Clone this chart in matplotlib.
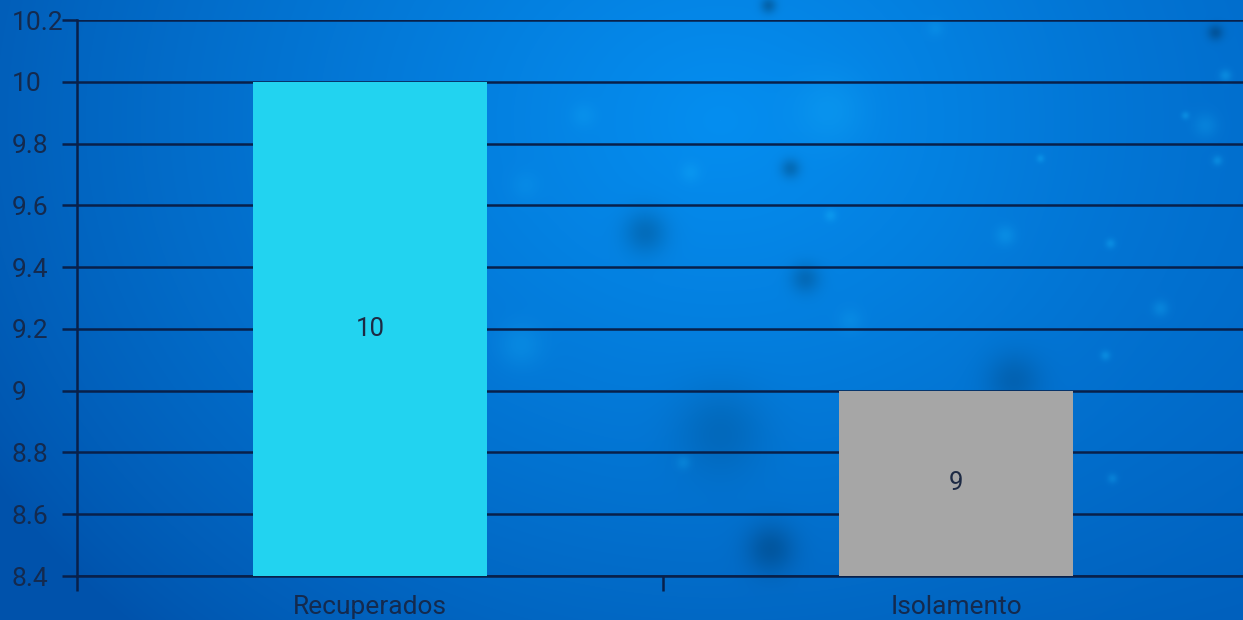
import numpy as np
import matplotlib
matplotlib.use("Agg")
import matplotlib.pyplot as plt

categories = ["Recuperados", "Isolamento"]
values = [10, 9]
bar_colors = ["#22d3f0", "#a6a6a6"]
y_ticks = [8.4, 8.6, 8.8, 9.0, 9.2, 9.4, 9.6, 9.8, 10.0, 10.2]
y_tick_labels = ["8.4", "8.6", "8.8", "9", "9.2", "9.4", "9.6", "9.8", "10", "10.2"]

W, H = 1243, 620
fig = plt.figure(figsize=(W / 100, H / 100), dpi=100)

# background gradient with soft bokeh
yy, xx = np.mgrid[0:H, 0:W].astype(float)
base_dark = np.array([0x00, 0x52, 0xab]) / 255.0
base_light = np.array([0x05, 0x8e, 0xf0]) / 255.0
r = np.sqrt(((xx - 720) / 850.0) ** 2 + ((yy - 120) / 700.0) ** 2)
t = np.clip(1 - r, 0, 1) ** 0.8
img = base_dark[None, None, :] * (1 - t[..., None]) + base_light[None, None, :] * t[..., None]
tr = np.clip((xx - 950) / 293.0, 0, 1) * 0.3
img = img * (1 - tr[..., None]) + (np.array([0x00, 0x72, 0xd6]) / 255.0) * tr[..., None]

blobs = [  # x, y, radius, strength (+ light, - dark)
    (830, 110, 35, 0.10), (645, 232, 22, -0.06), (805, 278, 15, -0.06),
    (790, 168, 10, -0.07), (1013, 380, 28, -0.05), (770, 548, 25, -0.07),
    (720, 430, 45, -0.04), (520, 345, 22, 0.10), (690, 172, 10, 0.10),
    (830, 215, 6, 0.15), (1005, 235, 10, 0.12), (1110, 243, 5, 0.15),
    (1160, 308, 8, 0.12), (1105, 355, 5, 0.15), (1225, 75, 6, 0.15),
    (1215, 32, 8, -0.08), (1205, 125, 12, 0.10), (1185, 115, 4, 0.15),
    (1040, 158, 4, 0.15), (1112, 478, 5, 0.12), (683, 462, 7, 0.10),
    (583, 115, 12, 0.08), (850, 320, 12, 0.08), (768, 5, 8, -0.08),
    (935, 28, 8, 0.08), (1217, 160, 5, 0.15), (525, 185, 14, 0.06),
]
for bx, by, br, s in blobs:
    g = np.exp(-(((xx - bx) ** 2 + (yy - by) ** 2) / (2 * (br * 0.7) ** 2)))
    if s > 0:
        col = np.array([0.1, 0.75, 1.0])
        img = img * (1 - s * 2 * g[..., None]) + col * (s * 2 * g[..., None])
    else:
        img = img * (1 + s * 3 * g[..., None])
img = np.clip(img, 0, 1)

bg = fig.add_axes([0, 0, 1, 1], zorder=0)
bg.imshow(img, aspect="auto", extent=[0, W, H, 0], interpolation="bilinear")
bg.axis("off")

left = 77 / W
right_px = 1249
bottom = (H - 576) / H
top = (H - 20) / H
ax = fig.add_axes([left, bottom, (right_px - 77) / W, top - bottom], zorder=1)
ax.patch.set_alpha(0)

text_color = "#142a4e"
grid_color = "#08204a"
font = "Roboto"

x = np.arange(len(categories))
bars = ax.bar(x, [v - 8.4 for v in values], bottom=8.4, width=0.4,
              color=bar_colors, zorder=3)
for xi, v in zip(x, values):
    ax.text(xi, (8.4 + v) / 2, f"{v}", ha="center", va="center",
            fontsize=18.5, color="#1d2a44", family=font, zorder=4)

ax.set_xlim(-0.5, 1.5)
ax.set_ylim(8.4, 10.2)
ax.set_yticks(y_ticks)
ax.set_yticklabels(y_tick_labels, family=font, fontsize=19, color=text_color,
                   ha="left")
ax.yaxis.grid(True, color=grid_color, linewidth=1.8, zorder=2)
ax.set_axisbelow(False)
for gl in ax.get_ygridlines():
    gl.set_zorder(2)
# left-aligned labels starting ~12px from the figure edge
pad_pts = (77 - 11 - 16) * 72 / 100
ax.tick_params(axis="y", length=11, width=1.8, color=grid_color, pad=pad_pts)

ax.set_xticks(x)
ax.set_xticklabels(categories, family=font, fontsize=19, color=text_color)
ax.tick_params(axis="x", length=0, pad=13.5)
ax.set_xticks([-0.5, 0.5, 1.5], minor=True)
ax.tick_params(axis="x", which="minor", length=11, width=1.8, color=grid_color)

for side in ["top", "right"]:
    ax.spines[side].set_visible(False)
ax.spines["left"].set_color(grid_color)
ax.spines["left"].set_linewidth(1.8)
ax.spines["bottom"].set_color(grid_color)
ax.spines["bottom"].set_linewidth(1.8)

fig.savefig("out.png", dpi=100)
